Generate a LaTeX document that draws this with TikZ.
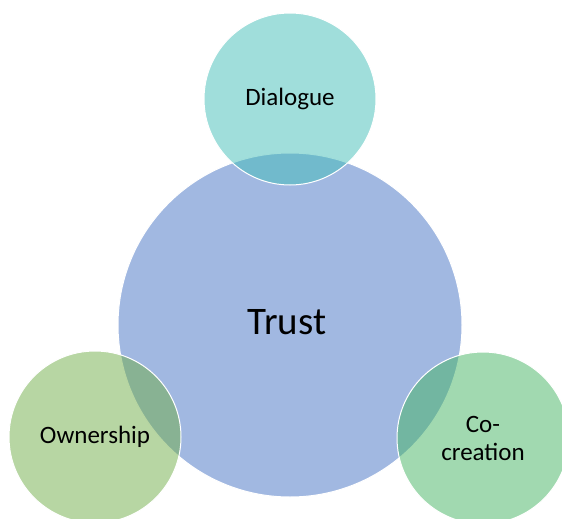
\documentclass[tikz,border=0pt]{standalone}
\usepackage{fontspec}
\setmainfont{Carlito}
\definecolor{trustblue}{RGB}{68,114,196}
\definecolor{dialteal}{RGB}{65,189,183}
\definecolor{ownergreen}{RGB}{112,173,71}
\definecolor{cocreagreen}{RGB}{68,180,98}
\begin{document}
\begin{tikzpicture}[x=1pt,y=-1pt]
\tikzset{bubble/.style={circle,inner sep=0pt,draw=white,line width=1pt,
  fill opacity=0.5,text opacity=1,minimum size=172pt,font=\fontsize{25}{28}\selectfont,align=center}}
\clip (0,0) rectangle (562,519);
\useasboundingbox (0,0) rectangle (562,519);
	\node[bubble,fill=trustblue,minimum size=344pt,font=\fontsize{39}{44}\selectfont] (trust) at (290,325) {};
	\node[font=\fontsize{39}{44}\selectfont] (trusttext) at (287,322) {Trust};
	\node[bubble,fill=dialteal] (dialogue) at (290,99) {Dialogue};
	\node[bubble,fill=ownergreen] (ownership) at (95,437) {Ownership};
	\node[bubble,fill=cocreagreen] (cocreation) at (483,438) {Co-\\creation};
\end{tikzpicture}
\end{document}
